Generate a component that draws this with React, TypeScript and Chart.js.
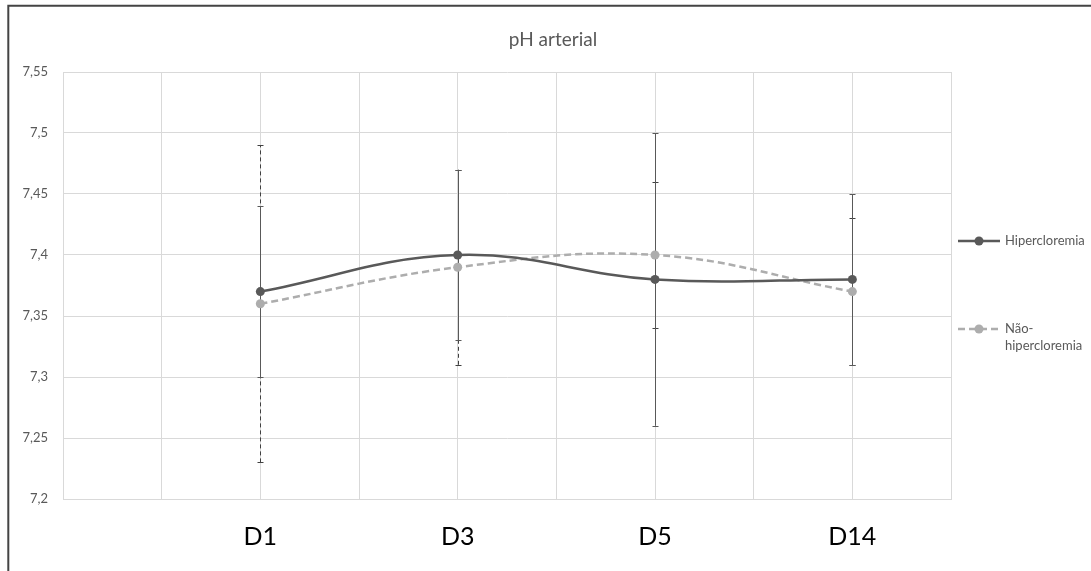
import { useEffect, useRef } from 'react';
import { Chart, registerables } from 'chart.js';

Chart.register(...registerables);

// ---- data ----
const chartTitle = 'pH arterial';
const categories = ['D1', 'D3', 'D5', 'D14'];
const seriesNames = ['Hipercloremia', 'Não-hipercloremia'];
const hyperMean = [7.37, 7.4, 7.38, 7.38];
const hyperLow = [7.3, 7.33, 7.26, 7.31];
const hyperHigh = [7.44, 7.47, 7.5, 7.45];
const nonMean = [7.36, 7.39, 7.4, 7.37];
const nonLow = [7.23, 7.31, 7.34, 7.31];
const nonHigh = [7.49, 7.47, 7.46, 7.43];
const yMin = 7.2;
const yMax = 7.55;
const yStep = 0.05;

// ---- layout / style ----
const W = 1091;
const H = 571;
const SLOTS = 10; // category axis slots (grid columns), categories sit on every second slot
const slotOf = (i: number) => 2 * i + 2;
const FONT = 'Lato, "Open Sans", "DejaVu Sans", sans-serif';
const DARK = '#595959';
const LIGHT = '#ADADAD';
const GRID = '#d9d9d9';
const TEXT = '#595959';

const axisLabels: string[] = Array.from({ length: SLOTS }, () => '');
categories.forEach((c, i) => {
  axisLabels[slotOf(i)] = c;
});
const pad = (arr: number[]) => {
  const out: (number | null)[] = Array.from({ length: SLOTS }, () => null);
  arr.forEach((v, i) => {
    out[slotOf(i)] = v;
  });
  return out;
};

const fmt = (v: number) => String(Number(v.toFixed(2))).replace('.', ',');

const decorPlugin = {
  id: 'decor',
  beforeDraw(chart: any) {
    const ctx = chart.ctx;
    ctx.save();
    ctx.fillStyle = '#ffffff';
    ctx.fillRect(0, 0, chart.width, chart.height);
    // frame (top + left, as in the cropped original)
    ctx.strokeStyle = '#444444';
    ctx.lineWidth = 2;
    ctx.beginPath();
    ctx.moveTo(8.3, chart.height);
    ctx.lineTo(8.3, 5.7);
    ctx.lineTo(chart.width, 5.7);
    ctx.stroke();
    // title
    ctx.fillStyle = TEXT;
    ctx.font = `19px ${FONT}`;
    ctx.textAlign = 'center';
    ctx.textBaseline = 'middle';
    ctx.fillText(chartTitle, 553, 40);
    ctx.restore();
  },
  beforeDatasetsDraw(chart: any) {
    const ctx = chart.ctx;
    const ys = chart.scales.y;
    const order = [1, 0];
    order.forEach((di) => {
      const ds = chart.data.datasets[di];
      const meta = chart.getDatasetMeta(di);
      ctx.save();
      ctx.strokeStyle = ds.errColor;
      ctx.lineWidth = 1;
      ctx.setLineDash(ds.errDash);
      meta.data.forEach((pt: any, i: number) => {
        const lo = ds.errLow[i];
        const hi = ds.errHigh[i];
        if (lo == null || hi == null) return;
        const x = Math.round(pt.x) + 0.5;
        const y1 = ys.getPixelForValue(lo);
        const y2 = ys.getPixelForValue(hi);
        ctx.beginPath();
        ctx.moveTo(x, y1);
        ctx.lineTo(x, y2);
        ctx.stroke();
        ctx.setLineDash([]);
        ctx.beginPath();
        ctx.moveTo(x - 3, Math.round(y1) + 0.5);
        ctx.lineTo(x + 3, Math.round(y1) + 0.5);
        ctx.moveTo(x - 3, Math.round(y2) + 0.5);
        ctx.lineTo(x + 3, Math.round(y2) + 0.5);
        ctx.stroke();
        ctx.setLineDash(ds.errDash);
      });
      ctx.restore();
    });
  },
  afterDraw(chart: any) {
    const ctx = chart.ctx;
    const area = chart.chartArea;
    const x0 = area.right + 7;
    const lineLen = 42;
    const textX = x0 + lineLen + 5;
    const maxW = chart.width - textX - 2;
    const itemY = [241, 329];
    ctx.save();
    ctx.font = `13px ${FONT}`;
    chart.data.datasets.forEach((ds: any, di: number) => {
      const y = itemY[di];
      ctx.strokeStyle = ds.borderColor;
      ctx.lineWidth = ds.borderWidth;
      ctx.setLineDash(ds.borderDash || []);
      ctx.beginPath();
      ctx.moveTo(x0, y);
      ctx.lineTo(x0 + lineLen, y);
      ctx.stroke();
      ctx.setLineDash([]);
      ctx.fillStyle = ds.pointBackgroundColor;
      ctx.beginPath();
      ctx.arc(x0 + lineLen / 2, y, ds.pointRadius, 0, Math.PI * 2);
      ctx.fill();
      // wrap label
      const label: string = ds.label;
      const lines: string[] = [];
      if (ctx.measureText(label).width <= maxW) {
        lines.push(label);
      } else {
        const parts = label.split(/(?<=-)|(?<= )/);
        let cur = '';
        parts.forEach((p) => {
          if (cur && ctx.measureText(cur + p).width > maxW) {
            lines.push(cur);
            cur = p;
          } else cur += p;
        });
        if (cur) lines.push(cur);
      }
      ctx.fillStyle = TEXT;
      ctx.textAlign = 'left';
      ctx.textBaseline = 'middle';
      lines.forEach((ln, li) => ctx.fillText(ln, textX, y + li * 17));
    });
    ctx.restore();
  },
};

export default function App() {
  const ref = useRef<HTMLCanvasElement | null>(null);
  useEffect(() => {
    document.body.style.margin = '0';
    if (!ref.current) return;
    const chart = new Chart(ref.current, {
      type: 'line',
      data: {
        labels: axisLabels,
        datasets: [
          {
            label: seriesNames[0],
            data: pad(hyperMean),
            borderColor: DARK,
            backgroundColor: DARK,
            pointBackgroundColor: DARK,
            pointBorderWidth: 0,
            pointRadius: 4.5,
            borderWidth: 2.5,
            tension: 0.4,
            spanGaps: true,
            errLow: pad(hyperLow),
            errHigh: pad(hyperHigh),
            errDash: [],
            errColor: DARK,
          } as any,
          {
            label: seriesNames[1],
            data: pad(nonMean),
            borderColor: LIGHT,
            backgroundColor: LIGHT,
            pointBackgroundColor: LIGHT,
            pointBorderWidth: 0,
            pointRadius: 4.5,
            borderWidth: 2.5,
            borderDash: [7, 4],
            tension: 0.4,
            spanGaps: true,
            errLow: pad(nonLow),
            errHigh: pad(nonHigh),
            errDash: [4, 3],
            errColor: '#404040',
          } as any,
        ],
      },
      options: {
        animation: false,
        responsive: false,
        layout: { padding: { left: 0, right: 140, top: 72, bottom: 0 } },
        plugins: {
          legend: { display: false },
          title: { display: false },
          tooltip: { enabled: false },
        },
        scales: {
          x: {
            type: 'category',
            offset: false,
            grid: { color: GRID, drawTicks: false, lineWidth: 1 },
            border: { display: true, color: GRID },
            ticks: {
              autoSkip: false,
              maxRotation: 0,
              padding: 23,
              color: '#000000',
              font: { family: FONT, size: 25 },
            },
            afterFit: (s: any) => {
              s.height = 72;
            },
          },
          y: {
            type: 'linear',
            min: yMin,
            max: yMax,
            grid: { color: GRID, drawTicks: false, lineWidth: 1 },
            border: { display: true, color: GRID },
            ticks: {
              stepSize: yStep,
              padding: 15,
              color: TEXT,
              font: { family: FONT, size: 13 },
              callback: (v: any) => fmt(Number(v)),
            },
            afterFit: (s: any) => {
              s.width = 63;
            },
          },
        },
      },
      plugins: [decorPlugin],
    });
    (document as any).fonts?.load?.(`13px Lato`).then(() => chart.draw()).catch(() => {});
    return () => chart.destroy();
  }, []);
  return (
    <div style={{ width: W, height: H }}>
      <canvas ref={ref} width={W} height={H} style={{ display: 'block' }} />
    </div>
  );
}
